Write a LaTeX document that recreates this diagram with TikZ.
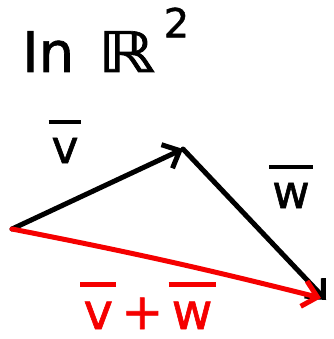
\documentclass[tikz,border=0pt]{standalone}
\usepackage{fontspec}
\setmainfont[FakeBold=1.2]{DejaVu Sans}
\usetikzlibrary{arrows.meta}
\definecolor{penred}{RGB}{245,0,0}
\tikzset{
  vec/.style={line width=5pt, line cap=round, line join=round,
    -{Straight Barb[length=14pt,width=26pt,line width=5pt]}},
  lbl/.style={inner sep=0pt, font=\fontsize{46}{46}\selectfont},
  rlbl/.style={inner sep=0pt, text=penred, font=\fontsize{50}{50}\selectfont}
}
\newcommand{\ovl}[1]{\setbox0\hbox{#1}\vbox{\offinterlineskip\hbox{\kern-0.06em\vrule width \dimexpr\wd0+0.12em\relax height 4.5pt\kern-0.06em}\kern 0.3em\box0}}
\begin{document}
\begin{tikzpicture}[x=1pt,y=-1pt]
\useasboundingbox (0,0) rectangle (333,339);
\coordinate (o) at (12,229);
\coordinate (a) at (183,149);
\coordinate (b) at (326,300);
\coordinate (c) at (321,298);
\node[lbl, anchor=base west, font=\fontsize{56}{56}\selectfont] (title) at (22,72) {In\hspace{0.42em}\scalebox{1.3}[1]{ℝ}\hspace{0.15em}\raisebox{0.62em}{\fontsize{40}{40}\selectfont 2}};
\node[lbl, anchor=base] (vl) at (65,163) {\ovl{v}};
\node[lbl, anchor=base] (wl) at (291,208) {\ovl{w}};
\node[rlbl, anchor=base] (sl) at (148,329) {\ovl{v}\,+\,\ovl{w}};
\draw[vec] (o) -- (a);
\draw[vec] (a) -- (b);
\draw[vec, penred] (o) to[bend left=1.5] (c);
\end{tikzpicture}
\end{document}
